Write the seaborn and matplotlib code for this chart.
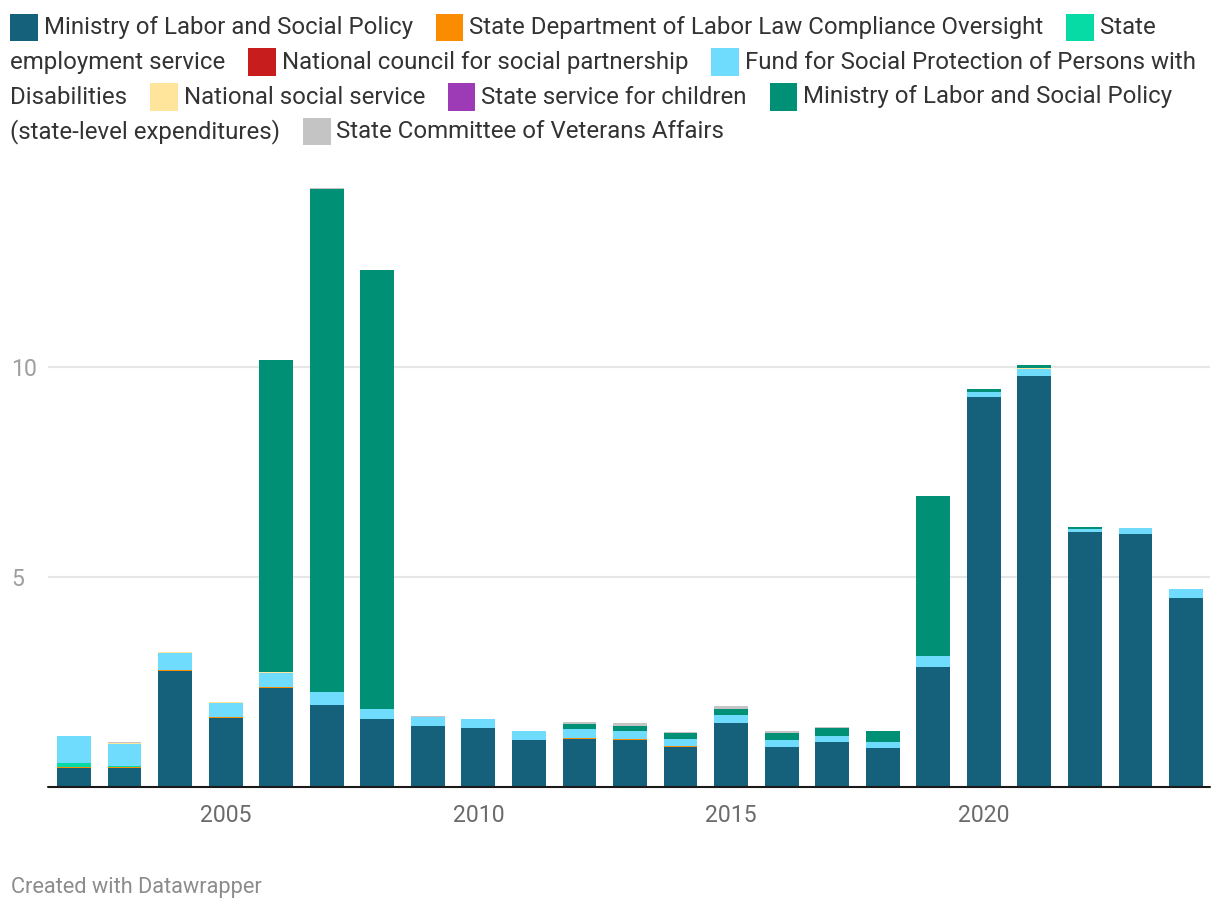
import numpy as np
import pandas as pd
import matplotlib
matplotlib.use("Agg")
import matplotlib.pyplot as plt
import seaborn as sns
from matplotlib.patches import Rectangle

# ---------------- data ----------------
years = list(range(2002, 2025))

series_names = [
    "Ministry of Labor and Social Policy",
    "State Department of Labor Law Compliance Oversight",
    "State employment service",
    "National council for social partnership",
    "Fund for Social Protection of Persons with Disabilities",
    "National social service",
    "State service for children",
    "Ministry of Labor and Social Policy (state-level expenditures)",
    "State Committee of Veterans Affairs",
]
series_colors = ["#15607a", "#fa8c00", "#06dba5", "#c71e1d", "#6fdcfd",
                 "#ffe59c", "#9d3ab5", "#009076", "#c4c4c4"]

ministry = [0.46, 0.46, 2.77, 1.65, 2.36, 1.95, 1.62, 1.45, 1.40, 1.12, 1.14, 1.12,
            0.95, 1.52, 0.95, 1.07, 0.93, 2.86, 9.29, 9.79, 6.07, 6.02, 4.50]
labor_oversight = [0.02, 0.02, 0.02, 0.02, 0.02, 0, 0, 0, 0, 0, 0.02, 0.02,
                   0.02, 0, 0, 0, 0, 0, 0, 0, 0, 0, 0]
employment = [0.09, 0.03, 0, 0, 0, 0, 0, 0, 0, 0, 0, 0,
              0, 0, 0, 0, 0, 0, 0, 0, 0, 0, 0]
council = [0, 0, 0, 0, 0, 0, 0, 0, 0, 0, 0, 0,
           0, 0, 0, 0, 0, 0, 0, 0, 0, 0, 0]
disability_fund = [0.64, 0.52, 0.40, 0.33, 0.34, 0.32, 0.24, 0.21, 0.21, 0.21, 0.21, 0.19,
                   0.17, 0.19, 0.17, 0.14, 0.14, 0.26, 0.12, 0.17, 0.07, 0.14, 0.21]
social_service = [0, 0.02, 0.02, 0.02, 0.02, 0, 0, 0, 0, 0, 0, 0,
                  0, 0, 0, 0, 0, 0, 0, 0.02, 0, 0, 0]
children_service = [0, 0, 0, 0, 0, 0, 0, 0, 0, 0, 0, 0,
                    0, 0, 0, 0, 0, 0, 0, 0, 0, 0, 0]
ministry_state = [0, 0, 0, 0, 7.42, 11.97, 10.44, 0, 0, 0, 0.12, 0.12,
                  0.14, 0.14, 0.17, 0.19, 0.26, 3.81, 0.07, 0.07, 0.05, 0, 0]
veterans = [0, 0.02, 0, 0, 0, 0.02, 0.02, 0.02, 0, 0, 0.05, 0.07,
            0.02, 0.07, 0.05, 0.02, 0, 0, 0, 0, 0, 0, 0]

x_tick_values = [2005, 2010, 2015, 2020]
x_tick_labels = ["2005", "2010", "2015", "2020"]
y_tick_values = [5, 10]
y_tick_labels = ["5", "10"]
footer_text = "Created with Datawrapper"

series_values = [ministry, labor_oversight, employment, council, disability_fund,
                 social_service, children_service, ministry_state, veterans]

# ---------------- style ----------------
sns.set_theme(style="white")
plt.rcParams['font.family'] = ['Roboto', 'DejaVu Sans']

W, H = 1220, 910
fig = plt.figure(figsize=(W / 100, H / 100), dpi=100)
fig.patch.set_facecolor("white")

ax_left, ax_right, ax_bottom, ax_top = 48, 1210, 787, 186
px_per_unit = 42.0
ax = fig.add_axes([ax_left / W, (H - ax_bottom) / H,
                   (ax_right - ax_left) / W, (ax_bottom - ax_top) / H])

df = pd.DataFrame({"year": years})
for name, vals in zip(series_names, series_values):
    df[name] = vals
cum = df[series_names].cumsum(axis=1)

# draw cumulative totals from the top layer down (overlapping gives a stack)
for i in reversed(range(len(series_names))):
    sns.barplot(x=df["year"], y=cum[series_names[i]], color=series_colors[i],
                width=0.67, native_scale=True, saturation=1, errorbar=None,
                linewidth=0, ax=ax, zorder=3)

ax.set_ylim(0, (ax_bottom - ax_top) / px_per_unit)
spacing = 50.55
ax.set_xlim(years[0] - 26 / spacing, years[-1] + 24 / spacing)

for v in y_tick_values:
    ax.axhline(v, color="#e6e6e6", lw=1.5, zorder=1)
ax.axhline(0, color="#1a1a1a", lw=1.5, zorder=5, clip_on=False)

for s in ax.spines.values():
    s.set_visible(False)
ax.set_xlabel("")
ax.set_ylabel("")

ax.set_xticks(x_tick_values)
ax.set_xticklabels(x_tick_labels, fontsize=16.6, color="#6b6b6b")
ax.set_yticks(y_tick_values)
ax.set_yticklabels(y_tick_labels, fontsize=16.6, color="#9e9e9e")
ax.tick_params(axis="x", length=0, pad=12.0)
ax.tick_params(axis="y", length=0, pad=(ax_left - 11) * 0.72)
for lab in ax.get_yticklabels():
    lab.set_ha("left")

# ---------------- legend (flowing, wrapping) ----------------
renderer = fig.canvas.get_renderer()
leg_color = "#333333"
leg_fs = 17.3


def measure(s):
    t = fig.text(0, 0, s, fontsize=leg_fs)
    w = t.get_window_extent(renderer).width
    t.remove()
    return w


def draw_text(s, x, base):
    fig.text(x / W, 1 - base / H, s, fontsize=leg_fs, color=leg_color,
             ha="left", va="baseline")


left_px, right_px = 10, 1212
baseline = 34.3
pitch = 34.6
sq = 27.5
gap_sq = 6
gap_item = 23
x = left_px
for name, color in zip(series_names, series_colors):
    if x + sq > right_px:
        x = left_px
        baseline += pitch
    fig.add_artist(Rectangle((x / W, 1 - (baseline + 7) / H), sq / W, sq / H,
                             transform=fig.transFigure, color=color, lw=0))
    x += sq + gap_sq
    seg = []
    for word in name.split():
        trial = " ".join(seg + [word])
        if x + measure(trial) > right_px:
            if seg:
                draw_text(" ".join(seg), x, baseline)
            x = left_px
            baseline += pitch
            seg = [word]
        else:
            seg.append(word)
    if seg:
        s = " ".join(seg)
        draw_text(s, x, baseline)
        x += measure(s) + gap_item

fig.text(11 / W, 1 - 893 / H, footer_text, fontsize=15.7, color="#8c8c8c",
         ha="left", va="baseline")

fig.savefig("out.png", dpi=100, facecolor="white")
